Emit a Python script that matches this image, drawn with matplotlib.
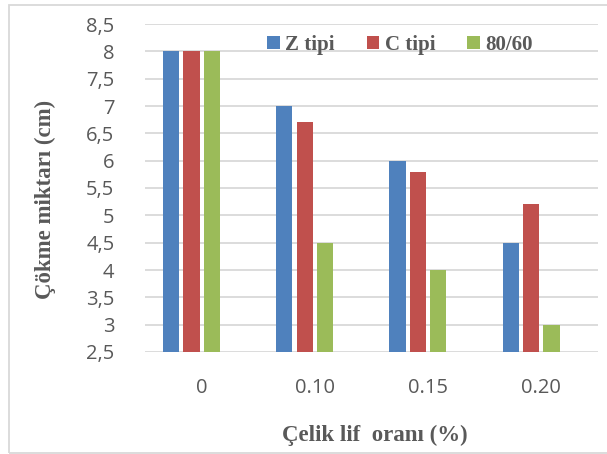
import matplotlib
matplotlib.use("Agg")
import matplotlib.pyplot as plt
import matplotlib.patches as mpatches
import numpy as np

categories = ["0", "0.10", "0.15", "0.20"]
series_names = ["Z tipi", "C tipi", "80/60"]
z_tipi = [8, 7, 6, 4.5]
c_tipi = [8, 6.7, 5.8, 5.2]
s80_60 = [8, 4.5, 4, 3]
y_ticks = [2.5, 3, 3.5, 4, 4.5, 5, 5.5, 6, 6.5, 7, 7.5, 8, 8.5]
y_tick_labels = ["2,5", "3", "3,5", "4", "4,5", "5", "5,5", "6", "6,5", "7", "7,5", "8", "8,5"]

colors = ["#4F81BD", "#C0504D", "#9BBB59"]
text_gray = "#595959"

fig = plt.figure(figsize=(6.07, 4.54), dpi=100)
ax = fig.add_axes([145/607, 1-352/454, 453/607, 328/454])

x = np.arange(len(categories))
d = 0.18
w = 0.143
offsets = [-1.5*d, -0.5*d, 0.5*d]
for vals, off, col, name in zip([z_tipi, c_tipi, s80_60], offsets, colors, series_names):
    ax.bar(x + off, np.array(vals) - 2.5, bottom=2.5, width=w, color=col,
           label=name, zorder=3, linewidth=0)

ax.set_ylim(2.5, 8.5)
ax.set_xlim(-0.5, 3.5)
ax.set_yticks(y_ticks)
ax.set_yticklabels(y_tick_labels)
ax.set_xticks(x)
ax.set_xticklabels(categories)
ax.yaxis.grid(True, color="#D9D9D9", linewidth=1.3, zorder=0)
ax.set_axisbelow(True)
for s in ax.spines.values():
    s.set_visible(False)
ax.tick_params(axis="both", length=0, labelcolor=text_gray)
ax.tick_params(axis="y", pad=22)
ax.tick_params(axis="x", pad=19)
for lab in ax.get_xticklabels() + ax.get_yticklabels():
    lab.set_fontfamily("Open Sans")
    lab.set_fontsize(14.5)

ax.set_xlabel("Çelik lif  oranı (%)", fontfamily="Liberation Serif", fontweight="bold",
              fontsize=16.5, color=text_gray)
ax.xaxis.set_label_coords((375-145)/453, (352-435)/328)
ax.set_ylabel("Çökme miktarı (cm)", fontfamily="Liberation Serif", fontweight="bold",
              fontsize=16.5, color=text_gray)
ax.yaxis.set_label_coords((45-145)/453, (352-199)/328)
ax.yaxis.label.set_va("center")
ax.xaxis.label.set_va("center")

leg = ax.legend(loc="center", bbox_to_anchor=((400-145)/453, (352-45)/328), ncol=3,
                frameon=False, handlelength=0.6, handleheight=0.6, handletextpad=0.25,
                columnspacing=1.55, prop={"family": "Liberation Serif", "weight": "bold", "size": 15})
for t in leg.get_texts():
    t.set_color(text_gray)

border = mpatches.Rectangle((8.5/607, 1-452.5/454), 1.2, (452.5-4.5)/454,
                            transform=fig.transFigure, fill=False,
                            edgecolor="#D9D9D9", linewidth=1.3, clip_on=False)
fig.patches.append(border)

fig.savefig("out.png", dpi=100)
